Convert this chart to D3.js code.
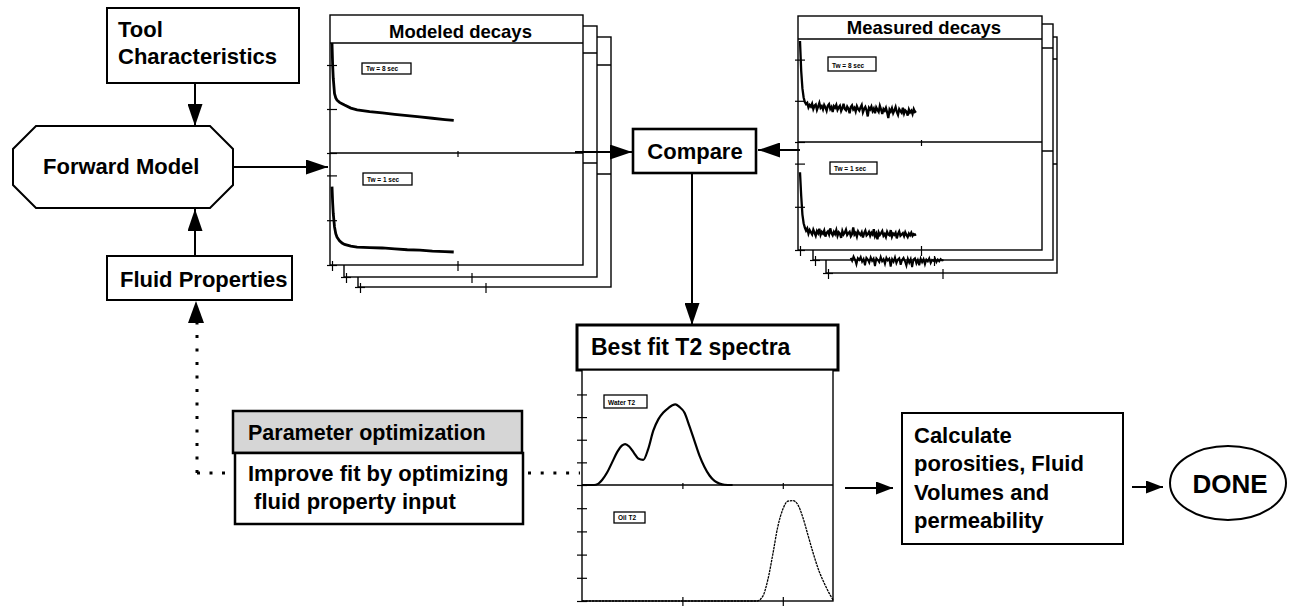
<!DOCTYPE html>
<html>
<head>
<meta charset="utf-8">
<script src="https://cdn.jsdelivr.net/npm/d3@7"></script>
<style>
  body { margin: 0; background: #fff; }
  text { font-family: "Liberation Sans", Arial, Helvetica, sans-serif; font-weight: bold; fill: #000; }
</style>
</head>
<body>
<svg id="chart" width="1289" height="606"></svg>
<script>
// ---- data ----
const decayTime = [0, 0.005, 0.01, 0.02, 0.03, 0.04, 0.06, 0.08, 0.1, 0.15, 0.2, 0.3, 0.4, 0.5, 0.6, 0.7, 0.8, 0.9, 0.97]
const modeledTw8 = [2.5, 2.0, 1.7, 1.35, 1.25, 1.2, 1.15, 1.12, 1.09, 1.02, 0.98, 0.94, 0.91, 0.88, 0.85, 0.82, 0.79, 0.76, 0.74]
const modeledTw1 = [1.75, 1.4, 1.15, 0.85, 0.7, 0.62, 0.54, 0.49, 0.46, 0.42, 0.4, 0.39, 0.38, 0.36, 0.34, 0.33, 0.31, 0.3, 0.29]

// measured echoes, sampled every 0.01
const measuredStep = 0.01
const measuredTw8 = [2.45,1.72,1.3,1.08,0.97,0.92,0.95,0.84,0.9,0.86,
  0.93,0.8,0.88,0.91,0.78,0.86,0.95,0.83,0.87,0.79,
  0.9,0.84,0.76,0.88,0.92,0.8,0.85,0.73,0.87,0.83,
  0.9,0.78,0.84,0.88,0.75,0.82,0.93,0.8,0.77,0.86,
  0.81,0.7,0.85,0.89,0.79,0.83,0.74,0.87,0.8,0.76,
  0.84,0.9,0.72,0.8,0.85,0.77,0.62,0.83,0.79,0.86,
  0.75,0.81,0.7,0.84,0.78,0.73,0.88,0.79,0.68,0.8,
  0.76,0.83,0.72,0.58,0.79,0.74,0.82,0.7,0.77,0.85,
  0.73,0.66,0.8,0.75,0.71,0.83,0.69,0.77,0.74,0.64,
  0.79,0.72,0.76,0.68,0.8,0.73,0.75]
const measuredTw1 = [1.8,1.25,0.82,0.62,0.52,0.45,0.5,0.38,0.46,0.41,
  0.36,0.47,0.4,0.33,0.44,0.39,0.49,0.35,0.42,0.38,
  0.45,0.31,0.4,0.43,0.36,0.5,0.39,0.34,0.42,0.37,
  0.46,0.33,0.41,0.38,0.28,0.44,0.36,0.4,0.47,0.35,
  0.39,0.42,0.32,0.37,0.52,0.36,0.4,0.31,0.43,0.38,
  0.35,0.41,0.29,0.39,0.45,0.34,0.37,0.42,0.33,0.4,
  0.36,0.48,0.32,0.38,0.25,0.41,0.35,0.39,0.44,0.33,
  0.37,0.3,0.42,0.36,0.34,0.46,0.31,0.38,0.35,0.4,
  0.27,0.37,0.43,0.33,0.36,0.39,0.32,0.41,0.35,0.3,
  0.38,0.34,0.4,0.33,0.37,0.35,0.36]
// echo train of the sheet behind, only its lower edge shows
const backStart = 0.3, backStep = 0.012
const measuredBack = [0.05,-0.02,0.08,0.01,-0.1,0.04,0.0,0.07,-0.04,0.02,
  -0.12,0.05,0.01,-0.06,0.06,-0.02,0.03,-0.14,0.04,0.0,
  -0.05,0.07,-0.03,0.02,-0.09,0.05,-0.01,0.03,-0.15,0.02,
  -0.04,0.06,-0.07,0.01,0.04,-0.11,0.0,0.05,-0.03,-0.13,
  0.03,-0.06,0.02,-0.16,0.01,0.04,-0.08,0.0,-0.12,0.03,
  -0.05,0.02,-0.1,0.01,-0.03,0.04,-0.07,0.0,-0.02,0.03,
  -0.05,0.01,-0.03,0.02,-0.01,0.0]

const waterT2 = [0, 0.12, 0.16, 0.2, 0.25, 0.3, 0.35, 0.4, 0.43, 0.47, 0.52, 0.56, 0.61, 0.66, 0.71, 0.76, 0.81, 0.86, 0.9, 0.93, 0.97, 1.02, 1.07, 1.12, 1.17, 1.22, 1.27, 1.32, 1.37, 1.42, 1.5]
const waterAmp = [0, 0, 0.05, 0.22, 0.55, 1.0, 1.45, 1.75, 1.81, 1.7, 1.4, 1.17, 1.11, 1.6, 2.4, 2.9, 3.2, 3.4, 3.52, 3.56, 3.45, 3.2, 2.6, 1.95, 1.3, 0.8, 0.42, 0.18, 0.06, 0.01, 0]
const oilT2 = [0, 0.5, 1.0, 1.5, 1.74, 1.8, 1.85, 1.9, 1.95, 2.0, 2.05, 2.1, 2.15, 2.2, 2.25, 2.3, 2.36, 2.42, 2.46, 2.5]
const oilAmp = [0, 0, 0, 0, 0, 0.2, 0.9, 2.0, 3.2, 3.95, 4.3, 4.33, 4.15, 3.6, 2.85, 2.1, 1.3, 0.7, 0.35, 0.05]

const decayTicks = [0, 1, 2]
const timeTicks = [0, 1]
const spectraTicks = [0, 1, 2, 3, 4]
const t2Ticks = [1, 2]
const decayLabels = ["Tw = 8 sec", "Tw = 1 sec"]
const spectraLabels = ["Water T2", "Oil T2"]
const toolLines = ["Tool", "Characteristics"]
const improveLines = ["Improve fit by optimizing", " fluid property input"]
const calcLines = ["Calculate", "porosities, Fluid", "Volumes and", "permeability"]

const svg = d3.select("#chart")

// arrowheads
const defs = svg.append("defs")
function addHead(id, len, wid) {
    defs.append("marker")
        .attr("id", id)
        .attr("markerUnits", "userSpaceOnUse")
        .attr("markerWidth", len).attr("markerHeight", wid)
        .attr("refX", len).attr("refY", wid / 2)
        .attr("orient", "auto")
        .append("path")
        .attr("d", `M0,0 L${len},${wid / 2} L0,${wid} Z`)
        .attr("fill", "#000")
}
addHead("big", 22, 15)
addHead("small", 17, 13)

function arrow(x1, y1, x2, y2, head) {
    svg.append("line")
        .attr("x1", x1).attr("y1", y1).attr("x2", x2).attr("y2", y2)
        .attr("stroke", "#000").attr("stroke-width", 2)
        .attr("marker-end", `url(#${head})`)
}

function box(x, y, w, h, sw, fill) {
    return svg.append("rect")
        .attr("x", x).attr("y", y).attr("width", w).attr("height", h)
        .attr("fill", fill || "#fff").attr("stroke", "#000").attr("stroke-width", sw)
}

function label(x, y, str, size, anchor) {
    return svg.append("text")
        .attr("x", x).attr("y", y)
        .attr("font-size", size)
        .attr("text-anchor", anchor || "start")
        .attr("xml:space", "preserve")
        .text(str)
}

// crossing tick marks drawn with d3 axes
function yTicks(g, scale, x, values, k) {
    const a = g.append("g").attr("transform", `translate(${x},0)`)
        .call(d3.axisLeft(scale).tickValues(values).tickSize(k).tickFormat(""))
    a.select(".domain").remove()
    a.selectAll(".tick line").attr("x1", k).attr("stroke", "#000").attr("stroke-width", 1.2)
}
function xTicks(g, scale, y, values, k) {
    const a = g.append("g").attr("transform", `translate(0,${y})`)
        .call(d3.axisBottom(scale).tickValues(values).tickSize(k).tickFormat(""))
    a.select(".domain").remove()
    a.selectAll(".tick line").attr("y1", -k + 2).attr("stroke", "#000").attr("stroke-width", 1.2)
}

// one sheet of the decay plots
function decaySheet(f, title) {
    const g = svg.append("g")
    const top = f.y + f.th, bot = f.y + f.h, mid = f.mid
    g.append("rect")
        .attr("x", f.x).attr("y", f.y).attr("width", f.w).attr("height", f.h)
        .attr("fill", "#fff").attr("stroke", "#000").attr("stroke-width", 1.4)
    g.append("line").attr("x1", f.x).attr("x2", f.x + f.w).attr("y1", top).attr("y2", top)
        .attr("stroke", "#000").attr("stroke-width", 1.4)
    g.append("line").attr("x1", f.x).attr("x2", f.x + f.w).attr("y1", mid).attr("y2", mid)
        .attr("stroke", "#000").attr("stroke-width", 1.4)
    const x = d3.scaleLinear().domain([0, 2]).range([f.x + 2, f.x + f.w])
    const yTop = d3.scaleLinear().domain([0, 2.5]).range([mid, top])
    const yBot = d3.scaleLinear().domain([0, 2.5]).range([bot, mid])
    yTicks(g, yTop, f.x + 2, decayTicks, 5)
    yTicks(g, yBot, f.x + 2, decayTicks, 5)
    xTicks(g, x, bot, timeTicks, 6)
    xTicks(g, x, mid, timeTicks.slice(1), 4)
    if (title) {
        g.append("text").attr("x", f.x + f.w / 2 + 4).attr("y", f.y + f.th - 5)
            .attr("text-anchor", "middle").attr("font-size", 18.5).text(title)
    }
    return { g, x, yTop, yBot }
}

function tagBox(g, x, y, w, h, str, size) {
    g.append("rect").attr("x", x).attr("y", y).attr("width", w).attr("height", h)
        .attr("fill", "#fff").attr("stroke", "#000").attr("stroke-width", 1.3)
    g.append("text").attr("x", x + 4).attr("y", y + h - 3.5).attr("font-size", size).text(str)
}

// ---- Modeled decays ----
decaySheet({ x: 358, y: 37, w: 253, h: 250, th: 28, mid: 174 })
decaySheet({ x: 344, y: 26, w: 253, h: 251, th: 27, mid: 163 })
const mod = decaySheet({ x: 330, y: 15, w: 253, h: 250, th: 28, mid: 153 }, "Modeled decays")

const modLineTop = d3.line().x((d, i) => mod.x(decayTime[i])).y(d => mod.yTop(d))
const modLineBot = d3.line().x((d, i) => mod.x(decayTime[i])).y(d => mod.yBot(d))
mod.g.append("path").attr("d", modLineTop(modeledTw8))
    .attr("fill", "none").attr("stroke", "#000").attr("stroke-width", 2.8)
mod.g.append("path").attr("d", modLineBot(modeledTw1))
    .attr("fill", "none").attr("stroke", "#000").attr("stroke-width", 2.8)
tagBox(mod.g, 362, 63, 49, 11, decayLabels[0], 6.5)
tagBox(mod.g, 363, 173, 49, 12, decayLabels[1], 6.5)

// ---- Measured decays ----
decaySheet({ x: 826, y: 37, w: 231, h: 236, th: 22, mid: 164 })
const back = decaySheet({ x: 813, y: 24, w: 240, h: 236, th: 24, mid: 151 })
const backLine = d3.line().x((d, i) => back.x(backStart + i * backStep)).y(d => back.yBot(d))
back.g.append("path").attr("d", backLine(measuredBack))
    .attr("fill", "none").attr("stroke", "#000").attr("stroke-width", 2)

const meas = decaySheet({ x: 798, y: 16, w: 244, h: 234, th: 23, mid: 142 }, "Measured decays")
const measLineTop = d3.line().x((d, i) => meas.x(i * measuredStep)).y(d => meas.yTop(d))
const measLineBot = d3.line().x((d, i) => meas.x(i * measuredStep)).y(d => meas.yBot(d))
meas.g.append("path").attr("d", measLineTop(measuredTw8))
    .attr("fill", "none").attr("stroke", "#000").attr("stroke-width", 2.3)
meas.g.append("path").attr("d", measLineBot(measuredTw1))
    .attr("fill", "none").attr("stroke", "#000").attr("stroke-width", 2.3)
tagBox(meas.g, 828, 57, 48, 14, decayLabels[0], 6.5)
tagBox(meas.g, 830, 162, 47, 12, decayLabels[1], 6.5)

// ---- left column ----
box(107, 8, 192, 75, 2)
toolLines.forEach((s, i) => label(118, 37 + i * 27, s, 22))

svg.append("polygon")
    .attr("points", "36,126 210,126 233,149 233,185 210,208 36,208 13,185 13,149")
    .attr("fill", "#fff").attr("stroke", "#000").attr("stroke-width", 2)
label(43, 174, "Forward Model", 22)

box(107, 256, 185, 44, 2)
label(120, 287, "Fluid Properties", 22)

arrow(195, 83, 195, 126, "big")
arrow(195, 256, 195, 209, "big")
arrow(233, 167, 328, 167, "big")

// ---- compare ----
box(633, 129, 123, 44, 2.6)
label(695, 159, "Compare", 22, "middle")
arrow(575, 152, 632, 152, "big")
arrow(800, 150, 758, 150, "big")
arrow(692, 173, 692, 325, "big")

// ---- optimisation loop (dotted) ----
svg.append("path").attr("d", "M197,473 V322")
    .attr("fill", "none").attr("stroke", "#000").attr("stroke-width", 3).attr("stroke-dasharray", "3,10.5")
svg.append("path").attr("d", "M197,473 H233")
    .attr("fill", "none").attr("stroke", "#000").attr("stroke-width", 3).attr("stroke-dasharray", "3,9.5")
svg.append("path").attr("d", "M528,473 H580")
    .attr("fill", "none").attr("stroke", "#000").attr("stroke-width", 3).attr("stroke-dasharray", "3,9.7")
svg.append("path").attr("d", "M196,301 L188,323 L204,323 Z").attr("fill", "#000")

box(233, 411, 289, 42, 2.5, "#d6d6d6")
label(248, 440, "Parameter optimization", 21.5)
box(235, 453, 288, 71, 2.5)
improveLines.forEach((s, i) => label(248, 481 + i * 28, s, 22))

// ---- Best fit T2 spectra ----
box(577, 325, 261, 45, 3)
label(591, 355, "Best fit T2 spectra", 23)

const sp = svg.append("g")
const spX = d3.scaleLinear().domain([0, 2.5]).range([582, 833])
const spTop = d3.scaleLinear().domain([0, 5.08]).range([485, 370])
const spBot = d3.scaleLinear().domain([0, 5.0]).range([601, 485])
sp.append("rect").attr("x", 582).attr("y", 370).attr("width", 251).attr("height", 231)
    .attr("fill", "#fff").attr("stroke", "#000").attr("stroke-width", 1.4)
sp.append("line").attr("x1", 582).attr("x2", 833).attr("y1", 485).attr("y2", 485)
    .attr("stroke", "#000").attr("stroke-width", 1.4)
yTicks(sp, spTop, 582, spectraTicks, 5)
yTicks(sp, spBot, 582, spectraTicks, 5)
xTicks(sp, spX, 601, t2Ticks, 6)
xTicks(sp, spX, 485, t2Ticks, 4)

sp.append("path")
    .attr("d", d3.line().x((d, i) => spX(waterT2[i])).y(d => spTop(d)).curve(d3.curveMonotoneX)(waterAmp))
    .attr("fill", "none").attr("stroke", "#000").attr("stroke-width", 2.2)
sp.append("path")
    .attr("d", d3.line().x((d, i) => spX(oilT2[i])).y(d => spBot(d)).curve(d3.curveMonotoneX)(oilAmp))
    .attr("fill", "none").attr("stroke", "#000").attr("stroke-width", 1.3).attr("stroke-dasharray", "2.5,0.8")
tagBox(sp, 604, 395, 43, 13, spectraLabels[0], 6.5)
tagBox(sp, 614, 512, 31, 11, spectraLabels[1], 6.5)

// ---- results ----
arrow(845, 488, 893, 488, "small")
box(902, 413, 221, 131, 2)
calcLines.forEach((s, i) => label(914, 443 + i * 28.3, s, 22))
arrow(1132, 487, 1163, 487, "small")
svg.append("ellipse").attr("cx", 1228).attr("cy", 483).attr("rx", 58).attr("ry", 37)
    .attr("fill", "#fff").attr("stroke", "#000").attr("stroke-width", 2)
label(1230, 493, "DONE", 26, "middle")
</script>
</body>
</html>
